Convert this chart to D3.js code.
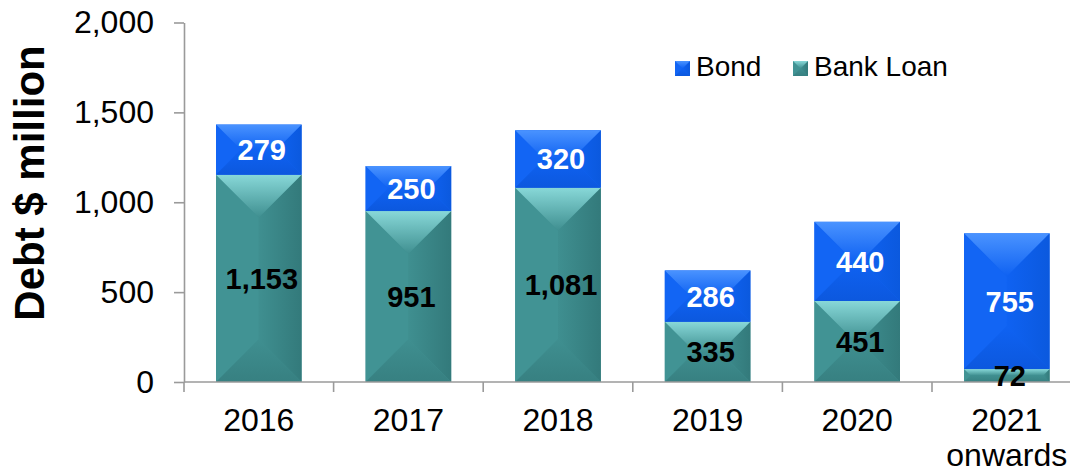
<!DOCTYPE html>
<html>
<head>
<meta charset="utf-8">
<script src="https://cdn.jsdelivr.net/npm/d3@7"></script>
<style>
    html, body { margin: 0; padding: 0; background: #fff; }
    svg { display: block; font-family: "Liberation Sans", Arial, sans-serif; }
</style>
</head>
<body>
<div id="chart"></div>
<script>
// ========================================
// DATA
// ========================================
const categories = ['2016', '2017', '2018', '2019', '2020', '2021 onwards'];
const bankLoan   = [1153, 951, 1081, 335, 451, 72];
const bond       = [279, 250, 320, 286, 440, 755];
const yTicks     = [0, 500, 1000, 1500, 2000];
const seriesNames = ['Bank Loan', 'Bond'];

// Colours for the bevelled look (base, light top, darker sides)
const palette = {
    'Bank Loan': { base: '#3f8f90', top: '#88d8d8', left: '#419394', right: '#337a7b', bottom: '#378081', text: '#000' },
    'Bond':      { base: '#0f62f2', top: '#4a93ff', left: '#1265f4', right: '#0b59de', bottom: '#0c58de', text: '#fff' }
};

const width = 1070, height = 472;

const svg = d3.select('#chart').append('svg')
    .attr('width', width).attr('height', height);

const defs = svg.append('defs');
seriesNames.forEach((name, i) => {
    const c = palette[name];
    const gTop = defs.append('linearGradient').attr('id', 'top' + i)
        .attr('x1', 0).attr('y1', 0).attr('x2', 0).attr('y2', 1);
    gTop.append('stop').attr('offset', '0%').attr('stop-color', c.top);
    gTop.append('stop').attr('offset', '100%').attr('stop-color', c.base);
    const gBot = defs.append('linearGradient').attr('id', 'bot' + i)
        .attr('x1', 0).attr('y1', 0).attr('x2', 0).attr('y2', 1);
    gBot.append('stop').attr('offset', '0%').attr('stop-color', c.base);
    gBot.append('stop').attr('offset', '100%').attr('stop-color', c.bottom);
    const gR = defs.append('linearGradient').attr('id', 'right' + i)
        .attr('x1', 0).attr('y1', 0).attr('x2', 1).attr('y2', 0);
    gR.append('stop').attr('offset', '0%').attr('stop-color', c.base);
    gR.append('stop').attr('offset', '100%').attr('stop-color', c.right);
});

// ========================================
// SCALES
// ========================================
const x = d3.scaleBand()
    .domain(categories)
    .range([184, 184 + 6 * 149.6])
    .paddingInner(0.428)
    .paddingOuter(0.214);

const y = d3.scaleLinear().domain([0, 2000]).range([382, 22.5]);

const table = categories.map((c, i) => ({ cat: c, 'Bank Loan': bankLoan[i], 'Bond': bond[i] }));
const stacked = d3.stack().keys(seriesNames)(table);

// Draws a bevelled (pyramid-like) rectangle
function bevelRect(g, x0, y0, w, h, si) {
    const c = palette[seriesNames[si]];
    const x1 = x0 + w, y1 = y0 + h;
    const d = Math.min(w, h) / 2;
    const pts = a => a.map(p => p.join(',')).join(' ');
    g.append('rect').attr('x', x0).attr('y', y0).attr('width', w).attr('height', h).attr('fill', c.base);
    g.append('polygon').attr('points', pts([[x0, y0], [x0 + d, y0 + d], [x0 + d, y1 - d], [x0, y1]])).attr('fill', c.left);
    g.append('polygon').attr('points', pts([[x1, y0], [x1 - d, y0 + d], [x1 - d, y1 - d], [x1, y1]])).attr('fill', `url(#right${si})`);
    g.append('polygon').attr('points', pts([[x0, y1], [x1, y1], [x1 - d, y1 - d], [x0 + d, y1 - d]])).attr('fill', `url(#bot${si})`);
    g.append('polygon').attr('points', pts([[x0, y0], [x1, y0], [x1 - d, y0 + d], [x0 + d, y0 + d]])).attr('fill', `url(#top${si})`);
}

// ========================================
// BARS
// ========================================
const barsG = svg.append('g');
stacked.forEach((layer, si) => {
    layer.forEach(d => {
        const x0 = x(d.data.cat);
        const yTop = y(d[1]), yBot = y(d[0]);
        bevelRect(barsG, x0, yTop, x.bandwidth(), yBot - yTop, si);
    });
});

// ========================================
// AXES
// ========================================
const axisColor = '#9a9a9a';

const yAxis = svg.append('g')
    .attr('transform', 'translate(184,0)')
    .call(d3.axisLeft(y).tickValues(yTicks).tickSize(10).tickSizeOuter(0).tickPadding(20)
        .tickFormat(d3.format(',')));
yAxis.select('.domain').attr('stroke', axisColor).attr('stroke-width', 1.6);
yAxis.selectAll('.tick line').attr('stroke', axisColor).attr('stroke-width', 1.6);
yAxis.selectAll('.tick text').attr('font-size', 32).attr('fill', '#000')
    .attr('font-family', '"Liberation Sans", Arial, sans-serif');

// x axis line and band boundary ticks
const xAxisG = svg.append('g');
xAxisG.append('line')
    .attr('x1', 184).attr('x2', width)
    .attr('y1', y(0)).attr('y2', y(0))
    .attr('stroke', axisColor).attr('stroke-width', 1.6);
xAxisG.selectAll('.bound')
    .data(d3.range(categories.length + 1)).enter()
    .append('line')
    .attr('x1', i => x.range()[0] + i * x.step())
    .attr('x2', i => x.range()[0] + i * x.step())
    .attr('y1', y(0)).attr('y2', y(0) + 10)
    .attr('stroke', axisColor).attr('stroke-width', 1.6);

const xLabels = xAxisG.selectAll('.xl')
    .data(categories).enter()
    .append('text')
    .attr('text-anchor', 'middle')
    .attr('font-size', 32)
    .attr('fill', '#000');
xLabels.each(function (c) {
    const cx = x(c) + x.bandwidth() / 2;
    c.split(' ').forEach((line, li) => {
        d3.select(this).append('tspan')
            .attr('x', cx)
            .attr('y', 431 + li * 35)
            .text(line);
    });
});

// y axis title
svg.append('text')
    .attr('transform', 'translate(44,183) rotate(-90)')
    .attr('text-anchor', 'middle')
    .attr('font-size', 42)
    .attr('font-weight', 'bold')
    .attr('fill', '#000')
    .text('Debt $ million');

// ========================================
// VALUE LABELS
// ========================================
stacked.forEach((layer, si) => {
    const c = palette[seriesNames[si]];
    svg.append('g').selectAll('text')
        .data(layer).enter()
        .append('text')
        .attr('x', d => x(d.data.cat) + x.bandwidth() / 2 + 3)
        .attr('y', d => (y(d[0]) + y(d[1])) / 2)
        .attr('dy', '0.36em')
        .attr('text-anchor', 'middle')
        .attr('font-size', 29)
        .attr('font-weight', 'bold')
        .attr('fill', c.text)
        .text(d => d3.format(',')(d[1] - d[0]));
});

// ========================================
// LEGEND
// ========================================
const legendItems = [
    { name: 'Bond', si: 1, x: 675 },
    { name: 'Bank Loan', si: 0, x: 793 }
];
const legend = svg.append('g');
legendItems.forEach(item => {
    const g = legend.append('g');
    bevelRect(g, item.x, 61, 15, 15, item.si);
    g.append('text')
        .attr('x', item.x + 21)
        .attr('y', 76)
        .attr('font-size', 28)
        .attr('fill', '#000')
        .text(item.name);
});
</script>
</body>
</html>
